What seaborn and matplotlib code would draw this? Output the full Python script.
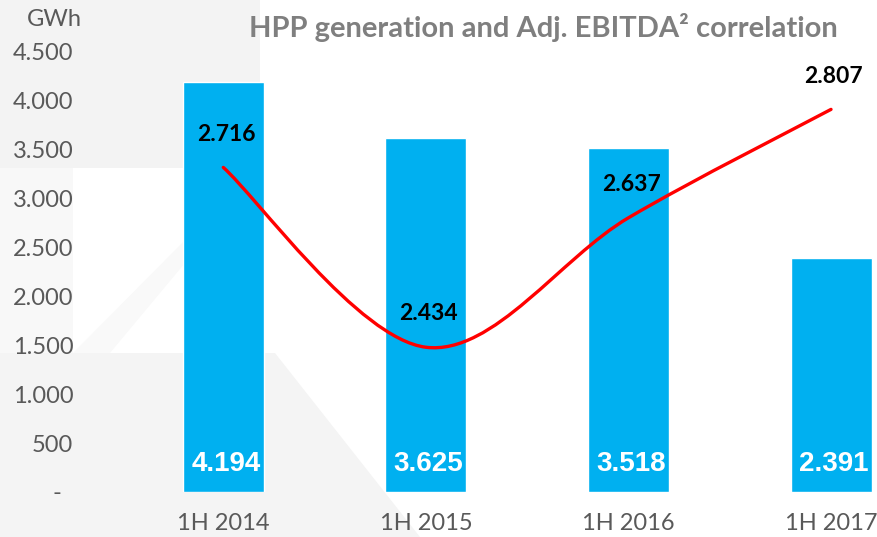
import numpy as np
import pandas as pd
import seaborn as sns
import matplotlib.pyplot as plt
from matplotlib.path import Path
from matplotlib.patches import PathPatch, Polygon

# data
periods = ['1H 2014', '1H 2015', '1H 2016', '1H 2017']
hpp_gwh = [4194, 3625, 3518, 2391]
ebitda = [2716, 2434, 2637, 2807]
y_ticks = [0, 500, 1000, 1500, 2000, 2500, 3000, 3500, 4000, 4500]

def dotted(v):
    return f"{v:,}".replace(",", ".")

sns.set_style('white')
plt.rcParams['font.family'] = ['Lato', 'DejaVu Sans']

W, H = 877, 537
fig = plt.figure(figsize=(W / 100, H / 100), dpi=100)

# faint watermark shapes in the background
def px(pts):
    return [(x / W, 1 - y / H) for x, y in pts]

for pts, c in [
    ([(0, 0), (260, 0), (260, 168), (0, 168)], '#F3F3F3'),
    ([(0, 168), (73, 168), (73, 353), (0, 353)], '#F8F8F8'),
    ([(73, 353), (185, 240), (200, 245), (110, 353)], '#F9F9F9'),
    ([(0, 353), (275, 353), (420, 537), (0, 537)], '#F4F4F4'),
]:
    fig.patches.append(Polygon(px(pts), closed=True, transform=fig.transFigure,
                               facecolor=c, edgecolor='none', zorder=-10))

ax = fig.add_axes([122 / W, 45 / H, 755 / W, 440 / H])
ax.set_facecolor('none')

df = pd.DataFrame({'period': periods, 'gwh': hpp_gwh})
sns.barplot(data=df, x='period', y='gwh', color='#00B0F0', saturation=1,
            width=0.4, ax=ax)

ax.set_xlim(-0.5, 3.227)
ax.set_ylim(0, 4500)
ax.set_yticks(y_ticks)
ax.set_yticklabels(['-  '] + [dotted(t) for t in y_ticks[1:]])
ax.set_xlabel('')
ax.set_ylabel('')
ax.tick_params(axis='y', length=0, pad=35, labelsize=17, labelcolor='#595959')
ax.tick_params(axis='x', length=0, pad=15, labelsize=17, labelcolor='#595959')
for s in ax.spines.values():
    s.set_visible(False)

for i, v in enumerate(hpp_gwh):
    ax.annotate(dotted(v), (i, 0), xytext=(2, 20), textcoords='offset points',
                ha='center', va='center', color='white', fontsize=20,
                fontweight='bold', family=['Liberation Sans', 'DejaVu Sans'])

# EBITDA line on a hidden secondary axis, smoothed like Excel
ax2 = ax.twinx()
ax2.set_ylim(2207, 2897)
ax2.axis('off')

xs = np.arange(len(ebitda), dtype=float)
ys = np.array(ebitda, dtype=float)
P = np.column_stack([xs, ys])
Pe = np.vstack([P[0], P, P[-1]])
verts = [tuple(P[0])]
codes = [Path.MOVETO]
for i in range(len(P) - 1):
    p0, p1, p2, p3 = Pe[i], Pe[i + 1], Pe[i + 2], Pe[i + 3]
    c1 = p1 + (p2 - p0) / 6
    c2 = p2 - (p3 - p1) / 6
    verts += [tuple(c1), tuple(c2), tuple(p2)]
    codes += [Path.CURVE4] * 3
ax2.add_patch(PathPatch(Path(verts, codes), facecolor='none', edgecolor='#FF0000',
                        lw=2.4, capstyle='round', zorder=3))

for i, v in enumerate(ebitda):
    ax2.annotate(dotted(v), (i, v), xytext=(2, 24), textcoords='offset points',
                 ha='center', va='center', color='black', fontsize=16.5,
                 fontweight='bold')

fig.text(27 / W, 1 - 20 / H, 'GWh', ha='left', va='center', fontsize=17,
         color='#595959')
fig.text(543 / W, 1 - 28 / H, 'HPP generation and Adj. EBITDA² correlation',
         ha='center', va='center', fontsize=21, fontweight='bold', color='#7F7F7F')

fig.savefig('out.png', dpi=100)
